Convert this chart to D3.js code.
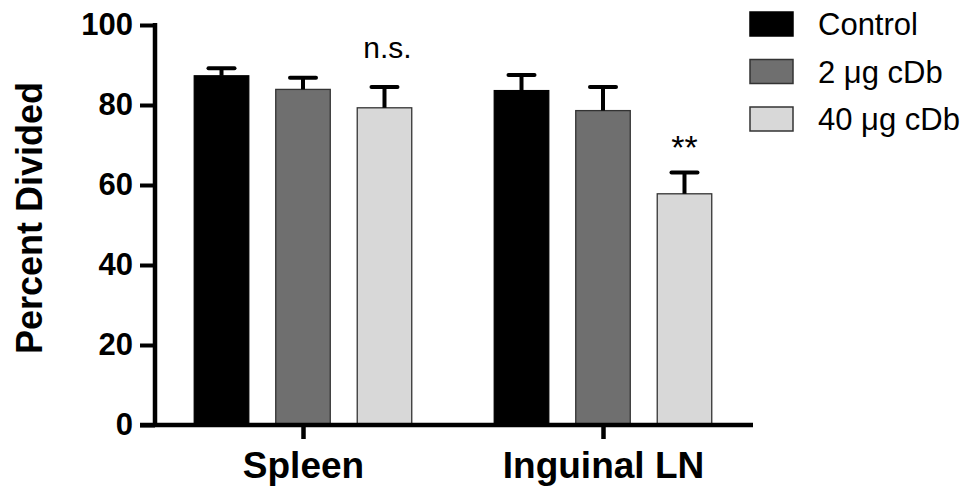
<!DOCTYPE html>
<html>
<head>
<meta charset="utf-8">
<script src="https://cdn.jsdelivr.net/npm/d3@7"></script>
<style>
  body { margin: 0; background: #fff; }
  svg { display: block; font-family: Arial, 'Liberation Sans', sans-serif; }
</style>
</head>
<body>
<script>
// data
const groups = ['Spleen', 'Inguinal LN'];
const series = ['Control', '2 μg cDb', '40 μg cDb'];
const means = [
  [87.3, 83.9, 79.3],
  [83.6, 78.6, 57.8]
];
const sems = [
  [1.9, 2.9, 5.2],
  [3.9, 5.9, 5.3]
];
const yTicks = [0, 20, 40, 60, 80, 100];
// significance marks: [group, series, text, y value]
const marks = [
  [0, 2, 'n.s.', 91.8],
  [1, 2, '**', 66.6]
];
const fills = ['#000000', '#6f6f6f', '#d8d8d8'];

const width = 967, height = 487;
const svg = d3.select('body').append('svg')
  .attr('width', width)
  .attr('height', height);

// SCALES
const y = d3.scaleLinear().domain([0, 100]).range([425, 25]);
const x0 = d3.scalePoint().domain(groups).range([153, 753]).padding(0.5);
const x1 = d3.scaleBand().domain(series).range([-108.75, 108.75]).paddingInner(0.331);

// BARS
const rows = [];
groups.forEach((g, gi) => {
  series.forEach((s, si) => {
    rows.push({ g, s, si, v: means[gi][si], e: sems[gi][si] });
  });
});

const barG = svg.append('g');
barG.selectAll('rect')
  .data(rows)
  .join('rect')
  .attr('x', d => x0(d.g) + x1(d.s))
  .attr('y', d => y(d.v))
  .attr('width', x1.bandwidth())
  .attr('height', d => y(0) - y(d.v))
  .attr('fill', d => fills[d.si])
  .attr('stroke', d => d.si === 0 ? '#000' : '#333')
  .attr('stroke-width', 1.3);

// ERROR BARS (upper only)
const errG = svg.append('g')
  .attr('stroke', '#000')
  .attr('stroke-width', 4);
errG.selectAll('line.stem')
  .data(rows)
  .join('line')
  .attr('class', 'stem')
  .attr('x1', d => x0(d.g) + x1(d.s) + x1.bandwidth() / 2)
  .attr('x2', d => x0(d.g) + x1(d.s) + x1.bandwidth() / 2)
  .attr('y1', d => y(d.v))
  .attr('y2', d => y(d.v + d.e));
errG.selectAll('line.cap')
  .data(rows)
  .join('line')
  .attr('class', 'cap')
  .attr('stroke-linecap', 'round')
  .attr('x1', d => x0(d.g) + x1(d.s) + x1.bandwidth() / 2 - 13)
  .attr('x2', d => x0(d.g) + x1(d.s) + x1.bandwidth() / 2 + 13)
  .attr('y1', d => y(d.v + d.e))
  .attr('y2', d => y(d.v + d.e));

// Y AXIS
const yAxis = svg.append('g')
  .attr('transform', 'translate(155,0)')
  .call(d3.axisLeft(y).tickValues(yTicks).tickSize(15).tickSizeOuter(0).tickPadding(7));
yAxis.select('.domain').attr('stroke-width', 4.5).attr('d', `M0,${y(100) - 2}V${y(0)}`);
yAxis.selectAll('.tick line').attr('stroke-width', 4);
yAxis.selectAll('.tick text')
  .attr('font-size', 31)
  .attr('font-weight', 'bold')
  .attr('font-family', 'Arial, Liberation Sans, sans-serif')
  .attr('fill', '#000');

// X AXIS
const xAxis = svg.append('g')
  .attr('transform', `translate(0,${y(0)})`)
  .call(d3.axisBottom(x0).tickSize(14).tickSizeOuter(0).tickPadding(0));
xAxis.select('.domain').attr('stroke-width', 4.5).attr('d', 'M140,0H753');
xAxis.selectAll('.tick line').attr('stroke-width', 4.5);
xAxis.selectAll('.tick text')
  .attr('y', 53)
  .attr('dy', 0)
  .attr('font-size', 37)
  .attr('font-weight', 'bold')
  .attr('font-family', 'Arial, Liberation Sans, sans-serif')
  .attr('fill', '#000');

// Y TITLE
svg.append('text')
  .attr('transform', `translate(42,${(y(0) + y(100)) / 2 - 7}) rotate(-90)`)
  .attr('text-anchor', 'middle')
  .attr('font-size', 36)
  .attr('font-weight', 'bold')
  .text('Percent Divided');

// SIGNIFICANCE MARKS
svg.selectAll('text.mark')
  .data(marks)
  .join('text')
  .attr('class', 'mark')
  .attr('x', d => x0(groups[d[0]]) + x1(series[d[1]]) + x1.bandwidth() / 2 + (d[2] === 'n.s.' ? 3 : 0))
  .attr('y', d => y(d[3]))
  .attr('text-anchor', 'middle')
  .attr('font-size', d => d[2] === '**' ? 34 : 30)
  .text(d => d[2]);

// LEGEND
const legend = svg.append('g').attr('transform', 'translate(750,12)');
const item = legend.selectAll('g')
  .data(series)
  .join('g')
  .attr('transform', (d, i) => `translate(0,${i * 47.5})`);
item.append('rect')
  .attr('width', 43)
  .attr('height', 24)
  .attr('fill', (d, i) => fills[i])
  .attr('stroke', (d, i) => i === 0 ? '#000' : '#333')
  .attr('stroke-width', 1.5);
item.append('text')
  .attr('x', 68)
  .attr('y', 12)
  .attr('dy', '0.36em')
  .attr('font-size', 31)
  .text(d => d);
</script>
</body>
</html>
